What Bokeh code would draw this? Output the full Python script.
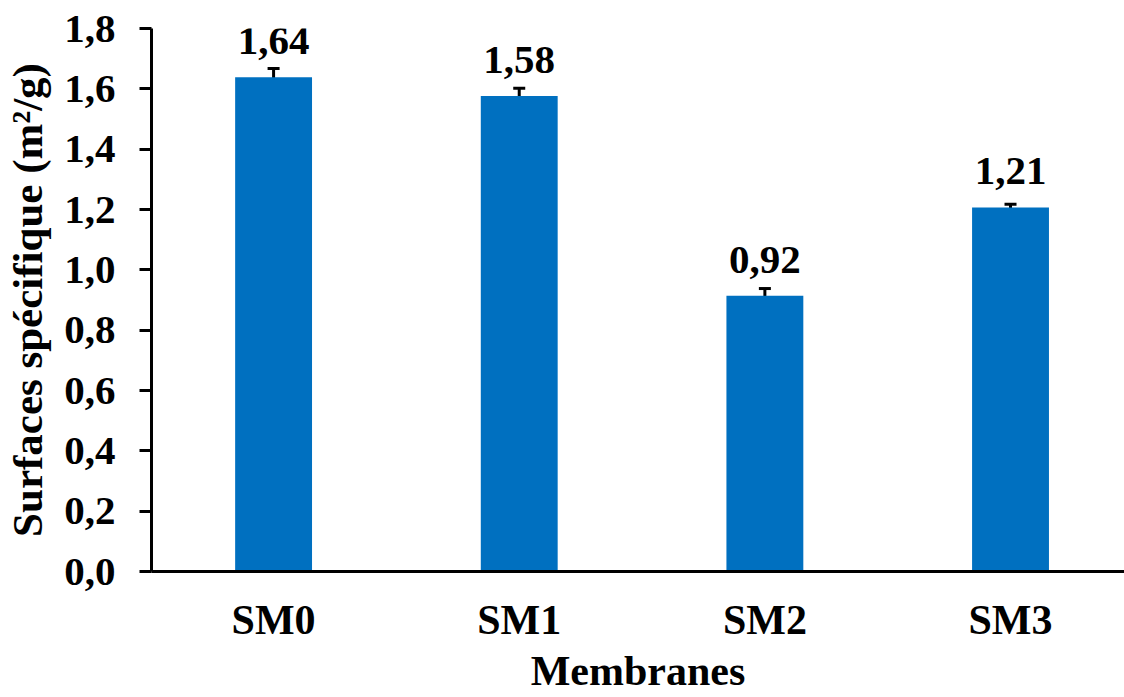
from bokeh.plotting import figure
from bokeh.models import ColumnDataSource, Range1d, FixedTicker, Whisker, TeeHead
from bokeh.embed import file_html
from bokeh.resources import INLINE

categories = ["SM0", "SM1", "SM2", "SM3"]
values = [1.638, 1.576, 0.914, 1.207]
errors = [0.029, 0.026, 0.024, 0.010]
value_labels = ["1,64", "1,58", "0,92", "1,21"]
y_ticks = [0.0, 0.2, 0.4, 0.6, 0.8, 1.0, 1.2, 1.4, 1.6, 1.8]
y_tick_labels = ["0,0", "0,2", "0,4", "0,6", "0,8", "1,0", "1,2", "1,4", "1,6", "1,8"]

FONT = "Liberation Serif"
BLUE = "#0070C0"

xs = list(range(len(categories)))
src = ColumnDataSource(dict(
    x=xs, top=values, label=value_labels,
    upper=[v + e for v, e in zip(values, errors)],
    lower=[v - e for v, e in zip(values, errors)],
))

p = figure(width=1124, height=697, output_backend="svg", toolbar_location=None,
           x_range=Range1d(-0.497, 3.464), y_range=Range1d(0, 1.8),
           min_border_left=151, min_border_top=28, min_border_right=0, min_border_bottom=126)
p.outline_line_color = None
p.xgrid.visible = False
p.ygrid.visible = False
p.background_fill_color = "white"

p.vbar(x="x", top="top", width=0.313, bottom=0, source=src, color=BLUE, line_color=None)

w = Whisker(source=src, base="x", upper="upper", lower="lower",
            line_width=3, line_color="black",
            upper_head=TeeHead(size=12, line_width=3, line_color="black"),
            lower_head=TeeHead(size=12, line_width=3, line_color="black"))
p.add_layout(w)

p.text(x="x", y="top", text="label", source=src, y_offset=-36,
       text_align="center", text_baseline="alphabetic",
       text_font=FONT, text_font_style="bold", text_font_size="41px", text_color="black")

# y axis
ya = p.yaxis[0]
ya.ticker = FixedTicker(ticks=y_ticks)
ya.major_label_overrides = {t: l for t, l in zip(y_ticks, y_tick_labels)}
ya.minor_tick_line_color = None
ya.major_tick_out = 12
ya.major_tick_in = 0
ya.major_tick_line_width = 3
ya.axis_line_width = 3
ya.major_label_standoff = 24
ya.major_label_text_font = FONT
ya.major_label_text_font_style = "bold"
ya.major_label_text_font_size = "41px"
ya.major_label_text_color = "black"
ya.axis_label = "Surfaces spécifique (m²/g)"
ya.axis_label_text_font = FONT
ya.axis_label_text_font_style = "bold"
ya.axis_label_text_font_size = "43px"
ya.axis_label_text_color = "black"
ya.axis_label_standoff = 10

# x axis
xa = p.xaxis[0]
xa.ticker = FixedTicker(ticks=xs)
xa.major_label_overrides = {i: c for i, c in zip(xs, categories)}
xa.minor_tick_line_color = None
xa.major_tick_out = 0
xa.major_tick_in = 0
xa.axis_line_width = 3
xa.major_label_standoff = 25
xa.major_label_text_font = FONT
xa.major_label_text_font_style = "bold"
xa.major_label_text_font_size = "42px"
xa.major_label_text_color = "black"
xa.axis_label = "Membranes"
xa.axis_label_text_font = FONT
xa.axis_label_text_font_style = "bold"
xa.axis_label_text_font_size = "42px"
xa.axis_label_text_color = "black"
xa.axis_label_standoff = 2

open("out.html", "w").write(file_html(p, INLINE))
